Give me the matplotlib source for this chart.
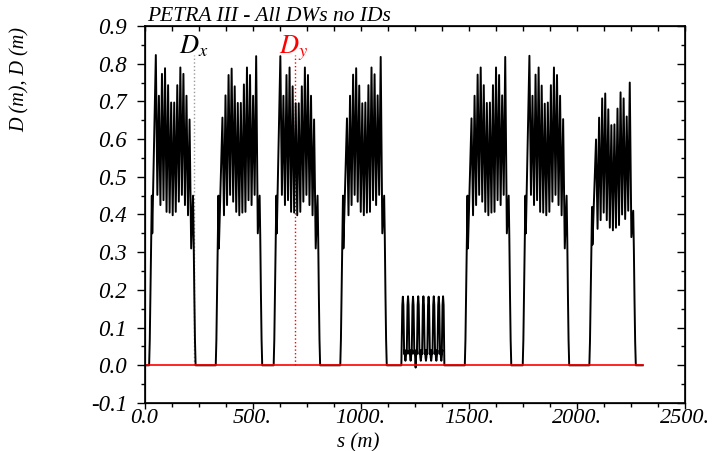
import matplotlib
matplotlib.use('Agg')
import matplotlib.pyplot as plt
from matplotlib.ticker import MultipleLocator

# ---------------- data ----------------
circumference = 2304.0
cell_step = 14.18          # spacing of dispersion maxima in the arcs (m)
arc_span = 156.0           # first to last maximum in one arc (m)

# position (s) of the first maximum of each regular arc
arc_first_peak = [52.4, 360.5, 628.4, 936.5, 1512.5, 1780.4, 2088.5]

arc_peaks = [
    [0.823, 0.715, 0.773, 0.788, 0.743, 0.697, 0.697, 0.743, 0.790, 0.773, 0.715, 0.652],
    [0.657, 0.716, 0.770, 0.787, 0.740, 0.696, 0.696, 0.745, 0.790, 0.770, 0.715, 0.820],
    [0.820, 0.715, 0.770, 0.790, 0.740, 0.695, 0.695, 0.740, 0.790, 0.770, 0.715, 0.652],
    [0.655, 0.715, 0.771, 0.788, 0.742, 0.695, 0.697, 0.743, 0.790, 0.772, 0.716, 0.818],
    [0.655, 0.715, 0.771, 0.790, 0.743, 0.696, 0.697, 0.743, 0.790, 0.770, 0.716, 0.818],
    [0.821, 0.715, 0.771, 0.790, 0.742, 0.694, 0.697, 0.743, 0.790, 0.770, 0.715, 0.653],
    [0.599, 0.657, 0.708, 0.721, 0.679, 0.637, 0.639, 0.681, 0.724, 0.708, 0.660, 0.750],
]
arc_troughs = [
    [0.452, 0.425, 0.438, 0.407, 0.405, 0.398, 0.407, 0.434, 0.452, 0.425, 0.398],
    [0.398, 0.425, 0.452, 0.434, 0.407, 0.398, 0.405, 0.407, 0.438, 0.425, 0.452],
    [0.452, 0.425, 0.438, 0.407, 0.405, 0.398, 0.407, 0.434, 0.452, 0.425, 0.398],
    [0.398, 0.425, 0.452, 0.434, 0.407, 0.398, 0.405, 0.407, 0.438, 0.425, 0.452],
    [0.398, 0.425, 0.452, 0.434, 0.407, 0.398, 0.405, 0.407, 0.438, 0.425, 0.452],
    [0.452, 0.425, 0.438, 0.407, 0.405, 0.398, 0.407, 0.434, 0.452, 0.425, 0.398],
    [0.362, 0.385, 0.405, 0.385, 0.365, 0.358, 0.365, 0.372, 0.400, 0.388, 0.410],
]
# entry level, entry dip, exit dip, exit level of each arc
arc_edges = [
    [0.45, 0.35, 0.31, 0.45],
    [0.45, 0.31, 0.35, 0.45],
    [0.45, 0.35, 0.31, 0.45],
    [0.45, 0.31, 0.35, 0.45],
    [0.45, 0.31, 0.35, 0.45],
    [0.45, 0.35, 0.31, 0.45],
    [0.42, 0.32, 0.34, 0.41],
]
ramp_in_ds = [-31.0, -28.0, -25.0, -21.5, -18.5]
ramp_out_ds = [16.0, 19.0, 22.0, 25.0, 28.0]
ramp_frac = [0.0, 0.15, 0.42, 0.75, 1.0]
entry_dip_ds = -16.5
exit_dip_ds = 7.5

# new octant (DBA cells)
dba_peak_s = [1195, 1219, 1242, 1266, 1290, 1314, 1338, 1361, 1381]
dba_peak_d = [0.182, 0.183, 0.182, 0.183, 0.183, 0.182, 0.183, 0.182, 0.183]
spike_ds = [-6.0, -4.5, -2.5, 0.0, 2.5, 4.5, 6.0]
spike_d = [0.03, 0.09, 0.160, 0.183, 0.160, 0.09, 0.03]
gap_ds = [8.0, 10.0, 12.0, 14.0, 16.0]
gap_d = [0.040, 0.020, 0.012, 0.022, 0.040]
gap_low = [0.012, 0.012, -0.006, 0.012, 0.012, 0.012, 0.012, 0.012]
dba_entry_s = 1188.0
dba_exit_s = 1387.0

dy_s = [0.0, circumference]
dy_d = [0.0, 0.0]

dx_marker_s = 231.0
dy_marker_s = 698.0
marker_top = 0.823

x_ticks = [0, 500, 1000, 1500, 2000, 2500]
x_tick_labels = ['0.0', '500.', '1000.', '1500.', '2000.', '2500.']
y_ticks = [-0.1, 0.0, 0.1, 0.2, 0.3, 0.4, 0.5, 0.6, 0.7, 0.8, 0.9]
y_tick_labels = ['-0.1', '0.0', '0.1', '0.2', '0.3', '0.4', '0.5', '0.6', '0.7', '0.8', '0.9']

# ---------------- build Dx line ----------------
s_dx, d_dx = [0.0], [0.0]

def add_arc(p0, peaks, troughs, edges):
    for ds, f in zip(ramp_in_ds, ramp_frac):
        s_dx.append(p0 + ds); d_dx.append(edges[0] * f)
    s_dx.append(p0 + entry_dip_ds); d_dx.append(edges[1])
    for k, pk in enumerate(peaks):
        s_dx.append(p0 + k * cell_step); d_dx.append(pk)
        if k < len(troughs):
            s_dx.append(p0 + (k + 0.5) * cell_step); d_dx.append(troughs[k])
    end = p0 + arc_span
    s_dx.append(end + exit_dip_ds); d_dx.append(edges[2])
    for ds, f in zip(ramp_out_ds, ramp_frac[::-1]):
        s_dx.append(end + ds); d_dx.append(edges[3] * f)

def add_dba():
    s_dx.append(dba_entry_s); d_dx.append(0.0)
    n = len(dba_peak_s)
    for i in range(n):
        c = dba_peak_s[i]
        scale = dba_peak_d[i] / 0.183
        for j, (ds, dv) in enumerate(zip(spike_ds, spike_d)):
            if i == 0 and j < 2:
                continue
            if i == n - 1 and j > 4:
                continue
            s_dx.append(c + ds); d_dx.append(dv * (scale if 1 < j < 5 else 1.0))
        if i < n - 1:
            for j, (ds, dv) in enumerate(zip(gap_ds, gap_d)):
                v = gap_low[i] if j == 2 else dv
                s_dx.append(c + ds); d_dx.append(v)
    s_dx.append(dba_exit_s); d_dx.append(0.0)

for i in range(4):
    add_arc(arc_first_peak[i], arc_peaks[i], arc_troughs[i], arc_edges[i])
add_dba()
for i in range(4, 7):
    add_arc(arc_first_peak[i], arc_peaks[i], arc_troughs[i], arc_edges[i])
s_dx.append(circumference); d_dx.append(0.0)

# ---------------- plot ----------------
plt.rcParams['font.family'] = ['Liberation Serif', 'DejaVu Serif']
plt.rcParams['font.style'] = 'italic'
plt.rcParams['mathtext.fontset'] = 'stix'

fig = plt.figure(figsize=(7.16, 4.51), dpi=100)
ax = fig.add_axes([144.5 / 716, 1 - 403 / 451, (685 - 144.5) / 716, (403 - 26) / 451])

ax.plot(s_dx, d_dx, color='black', lw=1.4, zorder=3)
ax.plot(dy_s, dy_d, color='#ff0000', lw=1.2, zorder=4)
ax.plot([dx_marker_s, dx_marker_s], [0.0, marker_top], color='#9a9a9a', ls=':', lw=1.0, zorder=2)
ax.plot([dy_marker_s, dy_marker_s], [0.0, marker_top], color='#ff0000', ls=':', lw=1.0, zorder=2)
ax.text(160, 0.826, r'$D_x$', fontsize=19, color='black', ha='left', va='baseline')
ax.text(622, 0.826, r'$D_y$', fontsize=19, color='#ff0000', ha='left', va='baseline')

ax.set_xlim(0, 2500)
ax.set_ylim(-0.1, 0.9)
ax.set_xticks(x_ticks)
ax.set_xticklabels(x_tick_labels)
ax.set_yticks(y_ticks)
ax.set_yticklabels(y_tick_labels)
ax.xaxis.set_minor_locator(MultipleLocator(125))
ax.yaxis.set_minor_locator(MultipleLocator(0.05))
ax.tick_params(axis='x', which='major', direction='out', length=4, width=1, labelsize=16, pad=0.5)
ax.tick_params(axis='x', which='minor', direction='out', length=3, width=1)
ax.tick_params(axis='y', which='major', direction='out', length=5.5, width=1, labelsize=16.5, pad=7)
ax.tick_params(axis='y', which='minor', direction='out', length=3, width=1)
for sp in ax.spines.values():
    sp.set_linewidth(1.2)

axt = ax.twiny()
axt.set_xlim(ax.get_xlim())
axt.set_xticks(x_ticks)
axt.xaxis.set_minor_locator(MultipleLocator(125))
axt.tick_params(axis='x', which='both', direction='in', length=3.5, width=1, labeltop=False)
axr = ax.twinx()
axr.set_ylim(ax.get_ylim())
axr.set_yticks(y_ticks)
axr.yaxis.set_minor_locator(MultipleLocator(0.05))
axr.tick_params(axis='y', which='major', direction='in', length=6, width=1, labelright=False)
axr.tick_params(axis='y', which='minor', direction='in', length=3, width=1)

fig.text(147 / 716, 1 - 21 / 451, 'PETRA III - All DWs no IDs', fontsize=15.5, ha='left', va='baseline')
fig.text(0.5, 1 - 447 / 451, 's (m)', fontsize=15, ha='center', va='baseline')
fig.text(20 / 716, 1 - 80 / 451, 'D (m), D (m)', fontsize=14.5, rotation=90, ha='center', va='center')

fig.savefig('out.png', dpi=100)
